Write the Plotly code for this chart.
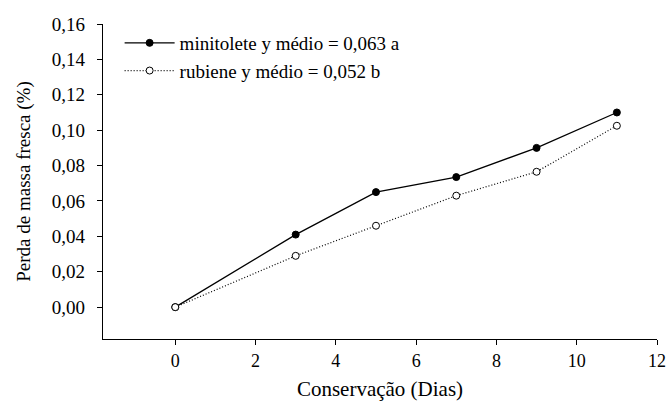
import plotly.graph_objects as go

dias = [0, 3, 5, 7, 9, 11]
minitolete = [0.0, 0.041, 0.065, 0.0735, 0.090, 0.110]
rubiene = [0.0, 0.029, 0.046, 0.063, 0.0765, 0.1025]
nome_minitolete = "minitolete y médio = 0,063 a"
nome_rubiene = "rubiene y médio = 0,052 b"
x_ticks = [0, 2, 4, 6, 8, 10, 12]
y_ticks = [0.00, 0.02, 0.04, 0.06, 0.08, 0.10, 0.12, 0.14, 0.16]

font = "Liberation Serif, serif"

fig = go.Figure()
fig.add_trace(go.Scatter(
    x=dias, y=minitolete, name=nome_minitolete, mode="lines+markers",
    line=dict(color="black", width=1.3),
    marker=dict(symbol="circle", size=7, color="black", line=dict(color="black", width=1)),
))
fig.add_trace(go.Scatter(
    x=dias, y=rubiene, name=nome_rubiene, mode="lines+markers",
    line=dict(color="black", width=1.2, dash="1px,2px"),
    marker=dict(symbol="circle", size=7, color="white", line=dict(color="black", width=1)),
))

fig.update_layout(
    width=670, height=401,
    margin=dict(l=103, r=13, t=24, b=62),
    paper_bgcolor="white", plot_bgcolor="white",
    separators=",.",
    font=dict(family=font, size=17, color="black"),
    showlegend=True,
    legend=dict(x=0.03, y=1.0, xanchor="left", yanchor="top",
                bgcolor="rgba(0,0,0,0)", font=dict(size=19, family=font),
                tracegroupgap=0, itemwidth=50),
    xaxis=dict(
        range=[-1.8, 12], tickvals=x_ticks, showline=True, linecolor="black", linewidth=1.2,
        ticks="outside", ticklen=5, tickcolor="black", showgrid=False, zeroline=False,
        tickfont=dict(size=18, family=font), automargin=False,
        title=dict(text="Conservação (Dias)", font=dict(size=21, family=font), standoff=20),
    ),
    yaxis=dict(
        range=[-0.018, 0.16], tickvals=y_ticks, tickformat=".2f", showline=True,
        linecolor="black", linewidth=1.2, ticks="outside", ticklen=5, tickcolor="black",
        showgrid=False, zeroline=False, tickfont=dict(size=19, family=font),
        ticklabelstandoff=8, automargin=False,
        title=dict(text="Perda de massa fresca (%)", font=dict(size=19, family=font), standoff=16),
    ),
)

fig.write_html(
    "out.html",
    config={"displayModeBar": False},
    post_script="document.body.style.margin='0';document.body.style.overflow='hidden';",
)
